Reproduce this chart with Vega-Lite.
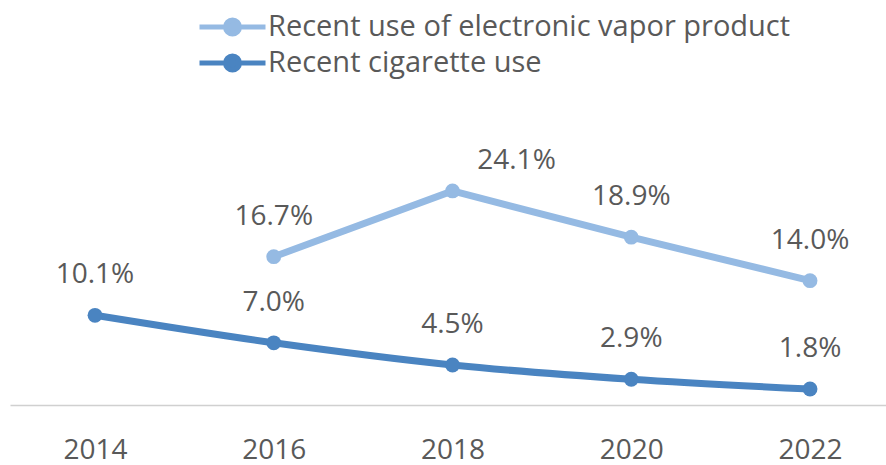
{
  "$schema": "https://vega.github.io/schema/vega-lite/v6.json",
  "width": 876,
  "height": 405,
  "autosize": {"type": "none"},
  "padding": {"left": 10, "top": 0, "right": 0, "bottom": 60},
  "background": "white",
  "config": {"view": {"stroke": null}, "font": "Open Sans"},
  "data": {"values": [
    {"year": 2016, "series": "Recent use of electronic vapor product", "value": 0.167},
    {"year": 2018, "series": "Recent use of electronic vapor product", "value": 0.241},
    {"year": 2020, "series": "Recent use of electronic vapor product", "value": 0.189},
    {"year": 2022, "series": "Recent use of electronic vapor product", "value": 0.140},
    {"year": 2014, "series": "Recent cigarette use", "value": 0.101},
    {"year": 2016, "series": "Recent cigarette use", "value": 0.070},
    {"year": 2018, "series": "Recent cigarette use", "value": 0.045},
    {"year": 2020, "series": "Recent cigarette use", "value": 0.029},
    {"year": 2022, "series": "Recent cigarette use", "value": 0.018}
  ]},
  "encoding": {
    "x": {
      "field": "year", "type": "quantitative",
      "scale": {"domain": [2013.049, 2022.85], "nice": false, "zero": false},
      "axis": {
        "values": [2014, 2016, 2018, 2020, 2022], "format": "d", "title": null,
        "grid": false, "ticks": false, "tickSize": 0,
        "domainColor": "#D0D0D0", "domainWidth": 1.5,
        "labelFont": "Open Sans", "labelFontSize": 28, "labelColor": "#595959",
        "labelBaseline": "alphabetic", "labelPadding": 53
      }
    },
    "y": {
      "field": "value", "type": "quantitative",
      "scale": {"domain": [0, 0.456], "nice": false},
      "axis": null
    },
    "color": {
      "field": "series", "type": "nominal",
      "scale": {"domain": ["Recent use of electronic vapor product", "Recent cigarette use"], "range": ["#95BAE3", "#4A84C1"]},
      "legend": {
        "orient": "none", "legendX": 220, "legendY": 8, "title": null,
        "symbolType": "M-3,0L1,0M-1.424,0A0.424,0.424 0 1,1 -0.576,0A0.424,0.424 0 1,1 -1.424,0Z",
        "symbolSize": 1089, "symbolStrokeWidth": 5,
        "labelFont": "Open Sans", "labelFontSize": 29, "labelColor": "#595959",
        "labelOffset": 0, "rowPadding": 0, "labelLimit": 700,
        "encoding": {"symbols": {"update": {
          "stroke": {"scale": "color", "field": "value"},
          "fill": {"scale": "color", "field": "value"},
          "opacity": {"value": 1},
          "strokeWidth": {"value": 5}
        }}}
      }
    }
  },
  "layer": [
    {
      "transform": [{"filter": "datum.series === 'Recent use of electronic vapor product'"}],
      "mark": {"type": "line", "strokeWidth": 7}
    },
    {
      "transform": [{"filter": "datum.series === 'Recent cigarette use'"}],
      "mark": {"type": "line", "strokeWidth": 7, "interpolate": "monotone"}
    },
    {
      "mark": {"type": "point", "filled": true, "size": 220, "opacity": 1}
    },
    {
      "transform": [{"filter": "!(datum.year === 2018 && datum.series === 'Recent use of electronic vapor product')"}],
      "mark": {"type": "text", "dy": -32, "baseline": "alphabetic", "fontSize": 28, "font": "Open Sans"},
      "encoding": {"text": {"field": "value", "format": ".1%"}, "color": {"value": "#595959"}}
    },
    {
      "transform": [{"filter": "datum.year === 2018 && datum.series === 'Recent use of electronic vapor product'"}],
      "mark": {"type": "text", "dx": 64, "dy": -22, "baseline": "alphabetic", "fontSize": 28, "font": "Open Sans"},
      "encoding": {"text": {"field": "value", "format": ".1%"}, "color": {"value": "#595959"}}
    }
  ]
}
